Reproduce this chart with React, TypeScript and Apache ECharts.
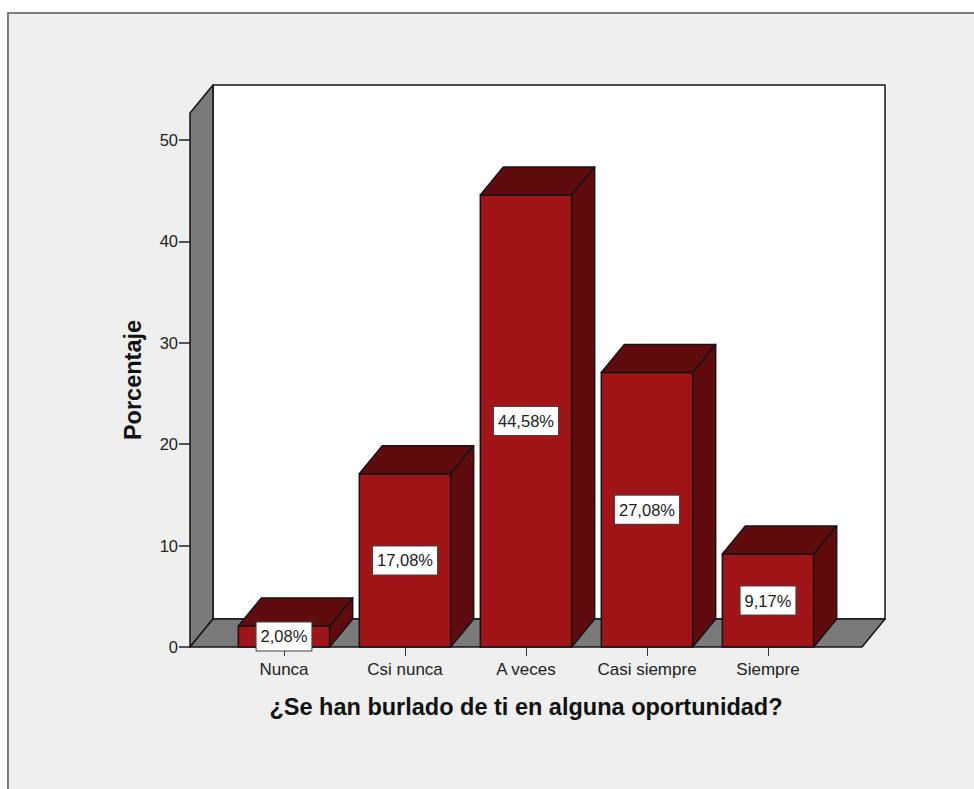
import React, { useEffect, useRef } from "react";
import * as echarts from "echarts";

const categories = ["Nunca", "Csi nunca", "A veces", "Casi siempre", "Siempre"];
const percentages = [2.08, 17.08, 44.58, 27.08, 9.17];
const yTicks = [0, 10, 20, 30, 40, 50];
const xTitle = "¿Se han burlado de ti en alguna oportunidad?";
const yTitle = "Porcentaje";

const W = 974;
const H = 789;
const FONT = '"Liberation Sans", Arial, sans-serif';
const DX = 23;
const DY = 28;
const FRONT_L = 190;
const FRONT_R = 862;
const Y0 = 647;
const Y_TOP = 113;
const GRID_L = 223.5;
const GRID_R = 828.5;
const Y_MAX = (Y0 - Y_TOP) / 10.14;
const LINE = "#141414";
const WALL = "#7a7a7a";
const FACE = "#a11417";
const DARK = "#600c0e";

const poly = (points: number[][], fill: string, z = 0) => ({
  type: "polygon",
  z,
  shape: { points },
  style: { fill, stroke: LINE, lineWidth: 1.5, lineJoin: "round" },
});

function renderBar(params: any, api: any) {
  const idx = api.value(0);
  const v = api.value(1);
  const [cx, yTop] = api.coord([idx, v]);
  const [, yBase] = api.coord([idx, 0]);
  const half = (api.size([1, 0])[0] * 0.755) / 2;
  const l = cx - half;
  const r = cx + half;
  return {
    type: "group",
    children: [
      poly([[l, yTop], [r, yTop], [r, yBase], [l, yBase]], FACE),
      poly([[l, yTop], [l + DX, yTop - DY], [r + DX, yTop - DY], [r, yTop]], DARK),
      poly([[r, yTop], [r + DX, yTop - DY], [r + DX, yBase - DY], [r, yBase]], DARK),
      {
        type: "text",
        z: 5,
        x: cx,
        y: (yTop + yBase) / 2,
        style: {
          text: v.toFixed(2).replace(".", ",") + "%",
          font: `16.5px ${FONT}`,
          fill: "#222",
          align: "center",
          verticalAlign: "middle",
          backgroundColor: "#fff",
          borderColor: "#444",
          borderWidth: 1,
          padding: [6, 4, 5, 4],
        },
      },
    ],
  };
}

export default function App() {
  const ref = useRef<HTMLDivElement>(null);
  useEffect(() => {
    const chart = echarts.init(ref.current!, null, { renderer: "svg" });
    chart.setOption({
      animation: false,
      backgroundColor: "#fff",
      grid: { left: GRID_L, right: W - GRID_R, top: Y_TOP, bottom: H - Y0, containLabel: false },
      graphic: {
        elements: [
          {
            type: "rect",
            z: -5,
            shape: { x: 8, y: 13, width: W + 20, height: H + 20 },
            style: { fill: "#efefef", stroke: "#7c7c7c", lineWidth: 2 },
          },
          poly([[FRONT_L + DX, Y_TOP - DY], [FRONT_R + DX, Y_TOP - DY], [FRONT_R + DX, Y0 - DY], [FRONT_L + DX, Y0 - DY]], "#fff", -4),
          poly([[FRONT_L, Y_TOP], [FRONT_L + DX, Y_TOP - DY], [FRONT_L + DX, Y0 - DY], [FRONT_L, Y0]], WALL, -3),
          poly([[FRONT_L, Y0], [FRONT_L + DX, Y0 - DY], [FRONT_R + DX, Y0 - DY], [FRONT_R, Y0]], WALL, -3),
        ],
      },
      xAxis: {
        type: "category",
        data: categories,
        boundaryGap: true,
        axisLine: { show: false },
        axisTick: { show: true, alignWithLabel: true, length: 9, lineStyle: { color: "#333", width: 1 } },
        axisLabel: { color: "#222", fontFamily: FONT, fontSize: 17, margin: 14, interval: 0 },
        name: xTitle,
        nameLocation: "middle",
        nameGap: 48,
        nameTextStyle: { color: "#111", fontFamily: FONT, fontSize: 23.5, fontWeight: "bold" },
      },
      yAxis: {
        type: "value",
        min: 0,
        max: Y_MAX,
        offset: GRID_L - FRONT_L,
        splitLine: { show: false },
        axisLine: { show: false },
        axisTick: { show: true, length: 11, customValues: yTicks, lineStyle: { color: "#222", width: 1.5 } },
        axisLabel: { color: "#222", fontFamily: FONT, fontSize: 16.5, margin: 12, customValues: yTicks },
        name: yTitle,
        nameLocation: "middle",
        nameGap: 45,
        nameTextStyle: { color: "#111", fontFamily: FONT, fontSize: 23.5, fontWeight: "bold" },
      },
      series: [
        {
          type: "custom",
          renderItem: renderBar,
          encode: { x: 0, y: 1 },
          data: percentages.map((v, i) => [i, v]),
          z: 3,
        },
      ],
    });
    return () => chart.dispose();
  }, []);
  return <div ref={ref} style={{ position: "fixed", left: 0, top: 0, width: W, height: H }} />;
}
